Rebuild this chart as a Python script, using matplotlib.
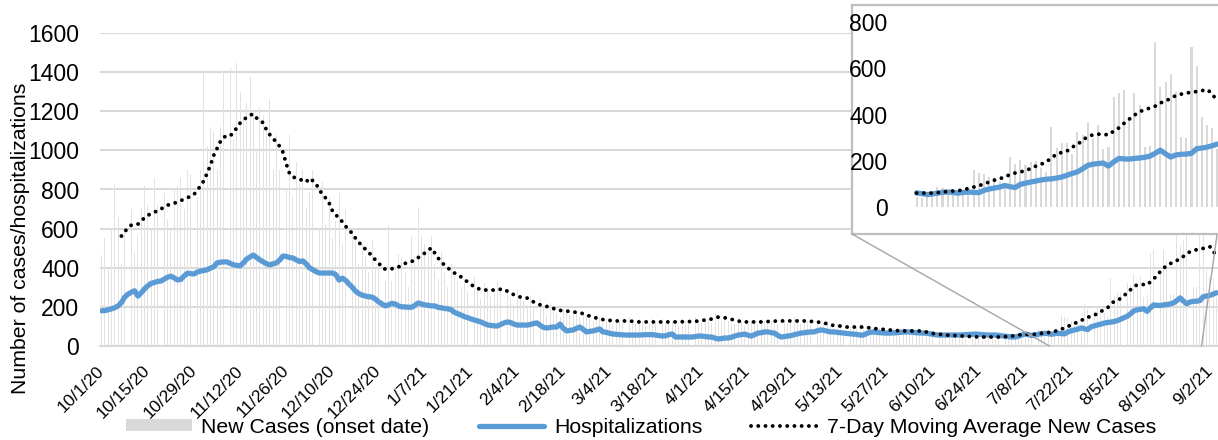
import numpy as np
import matplotlib
matplotlib.use("Agg")
import matplotlib.pyplot as plt
from matplotlib.patches import ConnectionPatch, Patch
from matplotlib.lines import Line2D

plt.rcParams['font.family'] = ['Liberation Sans', 'DejaVu Sans']

# ---------------- data (daily, 10/1/20 .. 9/4/21) ----------------
new_cases = [
    465, 550, 400, 600, 830, 660, 420, 610, 820, 700,
    480, 560, 700, 820, 720, 600, 860, 720, 820, 780,
    650, 600, 800, 820, 860, 700, 900, 880, 940, 760,
    900, 1400, 1020, 1120, 1100, 900, 1120, 1410, 1300, 1420,
    1060, 1446, 1300, 1160, 1240, 1375, 1200, 1000, 1220, 1180,
    1100, 1262, 900, 1080, 900, 880, 800, 1080, 760, 940,
    830, 900, 700, 780, 900, 760, 600, 840, 620, 760,
    550, 640, 780, 520, 700, 480, 600, 560, 420, 520,
    460, 380, 540, 400, 420, 300, 330, 620, 330, 380,
    470, 450, 380, 300, 560, 460, 710, 560, 520, 480,
    560, 420, 340, 480, 380, 300, 420, 360, 330, 300,
    340, 280, 260, 360, 300, 240, 320, 300, 250, 280,
    330, 300, 260, 290, 240, 210, 290, 260, 230, 210,
    260, 200, 180, 240, 200, 160, 220, 190, 170, 150,
    200, 190, 160, 180, 170, 150, 170, 160, 140, 130,
    160, 150, 120, 140, 130, 110, 140, 130, 120, 110,
    150, 130, 110, 140, 130, 100, 120, 140, 120, 100,
    140, 120, 110, 130, 120, 100, 140, 130, 120, 110,
    150, 130, 120, 150, 140, 120, 170, 150, 130, 140,
    130, 120, 110, 150, 130, 100, 120, 130, 120, 110,
    140, 130, 110, 130, 130, 110, 140, 130, 120, 120,
    150, 130, 110, 140, 130, 110, 130, 120, 100, 120,
    110, 100, 90, 110, 100, 80, 100, 100, 90, 90,
    110, 100, 80, 100, 90, 70, 90, 90, 80, 80,
    90, 80, 70, 90, 80, 60, 80, 80, 70, 80,
    70, 60, 50, 70, 60, 50, 60, 60, 50, 50,
    60, 50, 40, 60, 50, 40, 50, 50, 40, 40,
    60, 50, 40, 50, 50, 40, 50, 60, 60, 50,
    45, 40, 55, 60, 86, 82, 70, 60, 55, 50,
    75, 160, 147, 143, 130, 128, 110, 95, 216, 187,
    203, 180, 196, 198, 170, 150, 346, 255, 275, 275,
    230, 324, 310, 367, 300, 354, 251, 259, 475, 492,
    505, 380, 492, 440, 259, 265, 713, 518, 540, 575,
    497, 302, 300, 691, 609, 389, 354, 340, 250,
]

hospitalizations = [
    180, 181, 185, 190, 196, 205, 222, 250, 265, 275,
    282, 255, 272, 292, 308, 320, 325, 330, 332, 342,
    352, 357, 348, 338, 340, 358, 372, 370, 368, 378,
    383, 386, 390, 398, 405, 425, 428, 430, 430, 422,
    415, 412, 410, 425, 445, 455, 465, 452, 440, 430,
    420, 415, 420, 425, 440, 460, 458, 452, 450, 440,
    432, 435, 420, 400, 390, 380, 373, 373, 373, 373,
    373, 365, 337, 347, 335, 317, 300, 280, 268, 260,
    255, 252, 250, 240, 225, 215, 205, 210, 218, 215,
    205, 200, 200, 198, 198, 208, 220, 215, 210, 208,
    205, 205, 198, 195, 192, 190, 185, 172, 165, 158,
    150, 145, 138, 133, 128, 123, 115, 108, 105, 103,
    102, 110, 118, 123, 120, 112, 107, 107, 107, 107,
    110, 115, 118, 105, 95, 92, 95, 97, 97, 112,
    90, 77, 80, 82, 90, 97, 85, 72, 75, 77,
    82, 87, 72, 70, 65, 61, 60, 58, 57, 56,
    56, 56, 56, 56, 57, 58, 58, 58, 56, 53,
    51, 52, 58, 61, 46, 46, 46, 46, 46, 46,
    48, 51, 51, 48, 46, 46, 40, 36, 38, 41,
    41, 45, 51, 56, 58, 61, 55, 51, 58, 66,
    68, 72, 72, 68, 66, 55, 46, 48, 51, 53,
    58, 62, 66, 68, 70, 72, 72, 78, 82, 80,
    76, 72, 72, 70, 68, 66, 64, 62, 61, 59,
    56, 56, 64, 70, 72, 70, 68, 67, 66, 66,
    67, 68, 70, 71, 72, 72, 70, 68, 67, 66,
    66, 63, 60, 57, 56, 56, 56, 56, 56, 56,
    56, 57, 58, 59, 60, 61, 60, 58, 57, 56,
    56, 56, 54, 52, 50, 48, 46, 46, 50, 56,
    61, 58, 54, 56, 60, 63, 65, 63, 60, 63,
    65, 63, 62, 72, 78, 82, 86, 93, 88, 84,
    98, 103, 108, 112, 117, 120, 122, 125, 130, 137,
    145, 152, 165, 180, 185, 188, 190, 177, 195, 210,
    208, 207, 210, 212, 215, 220, 232, 246, 230, 216,
    225, 228, 229, 232, 252, 255, 259, 265, 272,
]

moving_avg = [
    np.nan, np.nan, np.nan, np.nan, np.nan, np.nan, 562, 585, 603, 618,
    623, 623, 640, 655, 668, 676, 685, 690, 700, 712,
    720, 725, 730, 736, 743, 751, 758, 765, 775, 795,
    820, 845, 884, 925, 975, 1010, 1045, 1068, 1073, 1073,
    1095, 1115, 1140, 1155, 1170, 1180, 1186, 1165, 1155, 1140,
    1104, 1080, 1060, 1042, 1020, 990, 930, 880, 864, 858,
    852, 846, 838, 858, 845, 830, 797, 775, 755, 730,
    690, 670, 655, 634, 612, 590, 577, 550, 530, 510,
    495, 478, 460, 440, 425, 400, 393, 393, 395, 398,
    404, 412, 422, 428, 432, 440, 452, 465, 475, 490,
    501, 475, 450, 429, 413, 399, 385, 373, 363, 353,
    340, 327, 315, 302, 295, 288, 286, 286, 286, 286,
    288, 290, 291, 280, 271, 262, 255, 250, 247, 245,
    235, 225, 218, 210, 205, 202, 200, 192, 184, 182,
    180, 179, 176, 174, 172, 170, 165, 158, 153, 148,
    143, 140, 135, 133, 131, 129, 128, 128, 128, 128,
    128, 126, 124, 123, 123, 123, 123, 123, 123, 123,
    123, 123, 123, 123, 123, 123, 124, 125, 125, 125,
    126, 128, 130, 133, 136, 138, 144, 148, 146, 144,
    140, 136, 133, 128, 124, 123, 123, 123, 123, 123,
    123, 124, 125, 126, 127, 128, 128, 128, 128, 128,
    128, 128, 128, 128, 128, 126, 124, 123, 120, 118,
    113, 108, 105, 103, 102, 100, 97, 97, 97, 97,
    97, 97, 95, 92, 90, 88, 87, 85, 83, 82,
    80, 79, 78, 77, 77, 77, 77, 77, 77, 77,
    72, 67, 64, 62, 60, 58, 56, 55, 54, 53,
    52, 51, 50, 49, 48, 47, 46, 46, 46, 46,
    46, 46, 46, 47, 48, 50, 51, 53, 56, 58,
    60, 60, 60, 60, 62, 65, 67, 69, 70, 75,
    80, 86, 92, 100, 108, 116, 122, 130, 140, 147,
    151, 158, 166, 177, 185, 195, 212, 229, 236, 242,
    259, 270, 288, 305, 312, 315, 314, 312, 328, 342,
    362, 380, 397, 412, 421, 428, 436, 450, 458, 470,
    482, 488, 492, 497, 499, 503, 508, 490, 454,
]

tick_labels = ["10/1/20", "10/15/20", "10/29/20", "11/12/20", "11/26/20",
               "12/10/20", "12/24/20", "1/7/21", "1/21/21", "2/4/21",
               "2/18/21", "3/4/21", "3/18/21", "4/1/21", "4/15/21",
               "4/29/21", "5/13/21", "5/27/21", "6/10/21", "6/24/21",
               "7/8/21", "7/22/21", "8/5/21", "8/19/21", "9/2/21"]
tick_step = 14
inset_start = 280            # 7/8/21
y_ticks_main = [0, 200, 400, 600, 800, 1000, 1200, 1400, 1600]
y_ticks_inset = [0, 200, 400, 600, 800]

# ---------------- styling ----------------
BAR_MAIN_C = '#e2e2e2'
BAR_C = '#d9d9d9'
HOSP_C = '#5b9bd5'
GRID_C = '#d9d9d9'
W, H = 1218, 440
DOTS = (0, (0.01, 1.85))
MA_LW = 2.8

n = len(new_cases)
days = np.arange(n)

fig = plt.figure(figsize=(W / 100, H / 100), dpi=100)

def fx(px):
    return px / W

def fy(py):
    return 1 - py / H

# main axes
ax = fig.add_axes([fx(100), fy(346), fx(1218) - fx(100), fy(33) - fy(346)])
ax.bar(days, new_cases, width=0.28, color=BAR_MAIN_C, linewidth=0, zorder=2)
ax.plot(days, hospitalizations, color=HOSP_C, lw=3.8, solid_capstyle='round',
        solid_joinstyle='round', zorder=3)
ax.plot(days, moving_avg, color='black', lw=MA_LW, linestyle=DOTS,
        dash_capstyle='round', zorder=4)
ax.set_xlim(-0.5, n - 0.5)
ax.set_ylim(0, 1600)
ax.set_yticks(y_ticks_main)
ax.yaxis.grid(True, color=GRID_C, lw=1.5, zorder=0)
ax.set_axisbelow(True)
for s in ['top', 'right', 'left']:
    ax.spines[s].set_visible(False)
ax.spines['bottom'].set_color(GRID_C)
ax.spines['bottom'].set_linewidth(1.5)
ax.set_xticks(days[::tick_step])
ax.set_xticklabels(tick_labels, rotation=45, ha='right', va='center',
                   rotation_mode='anchor', fontsize=12.5)
ax.tick_params(axis='x', length=0, pad=16)
ax.tick_params(axis='y', length=0, pad=15, labelsize=16.5)

fig.text(fx(21), fy(238), 'Number of cases/hospitalizations', rotation=90,
         ha='center', va='center', fontsize=15.3)

# inset frame
frame = fig.add_axes([fx(852), fy(234), fx(1232) - fx(852), fy(5) - fy(234)])
frame.set_xticks([])
frame.set_yticks([])
frame.set_facecolor('white')
for s in frame.spines.values():
    s.set_color('#bfbfbf')
    s.set_linewidth(1.6)
frame.set_zorder(5)

# inset data axes
ins = fig.add_axes([fx(914), fy(207), fx(1220) - fx(914), fy(22) - fy(207)])
ins.set_zorder(6)
ins.patch.set_alpha(0)
idays = days[inset_start:]
ins.bar(idays, new_cases[inset_start:], width=0.4, color=BAR_C, linewidth=0)
ins.plot(idays, hospitalizations[inset_start:], color=HOSP_C, lw=3.8,
         solid_capstyle='round', solid_joinstyle='round')
ins.plot(idays, moving_avg[inset_start:], color='black', lw=MA_LW,
         linestyle=DOTS, dash_capstyle='round')
ins.set_xlim(inset_start - 0.5, n - 0.5)
ins.set_ylim(0, 800)
ins.set_yticks(y_ticks_inset)
ins.set_xticks([])
for s in ins.spines.values():
    s.set_visible(False)
ins.tick_params(axis='y', length=0, pad=19, labelsize=16.5)

# connector lines (inset frame corners -> zoomed span on main axis)
cp1 = ConnectionPatch(xyA=(0, 0), coordsA=frame.transAxes, xyB=(287.4, 0),
                      coordsB=ax.transData, color='#a6a6a6', lw=1.0)
cp2 = ConnectionPatch(xyA=(fx(1217), fy(235)), coordsA=fig.transFigure,
                      xyB=(333.5, 0), coordsB=ax.transData,
                      color='#a6a6a6', lw=1.0)
for cp in (cp1, cp2):
    cp.set_zorder(7)
    fig.add_artist(cp)

# legend
handles = [
    Patch(facecolor=BAR_C, edgecolor='none'),
    Line2D([], [], color=HOSP_C, lw=3.8, solid_capstyle='round'),
    Line2D([], [], color='black', lw=MA_LW, linestyle=DOTS,
           dash_capstyle='round'),
]
labels = ['New Cases (onset date)', 'Hospitalizations',
          '7-Day Moving Average New Cases']
fig.legend(handles, labels, loc='center', bbox_to_anchor=(fx(641), fy(427)),
           ncol=3, frameon=False, fontsize=15.3, handlelength=3.1,
           handleheight=0.45, handletextpad=0.45, columnspacing=2.3,
           borderpad=0, borderaxespad=0)

fig.savefig('out.png', dpi=100)
